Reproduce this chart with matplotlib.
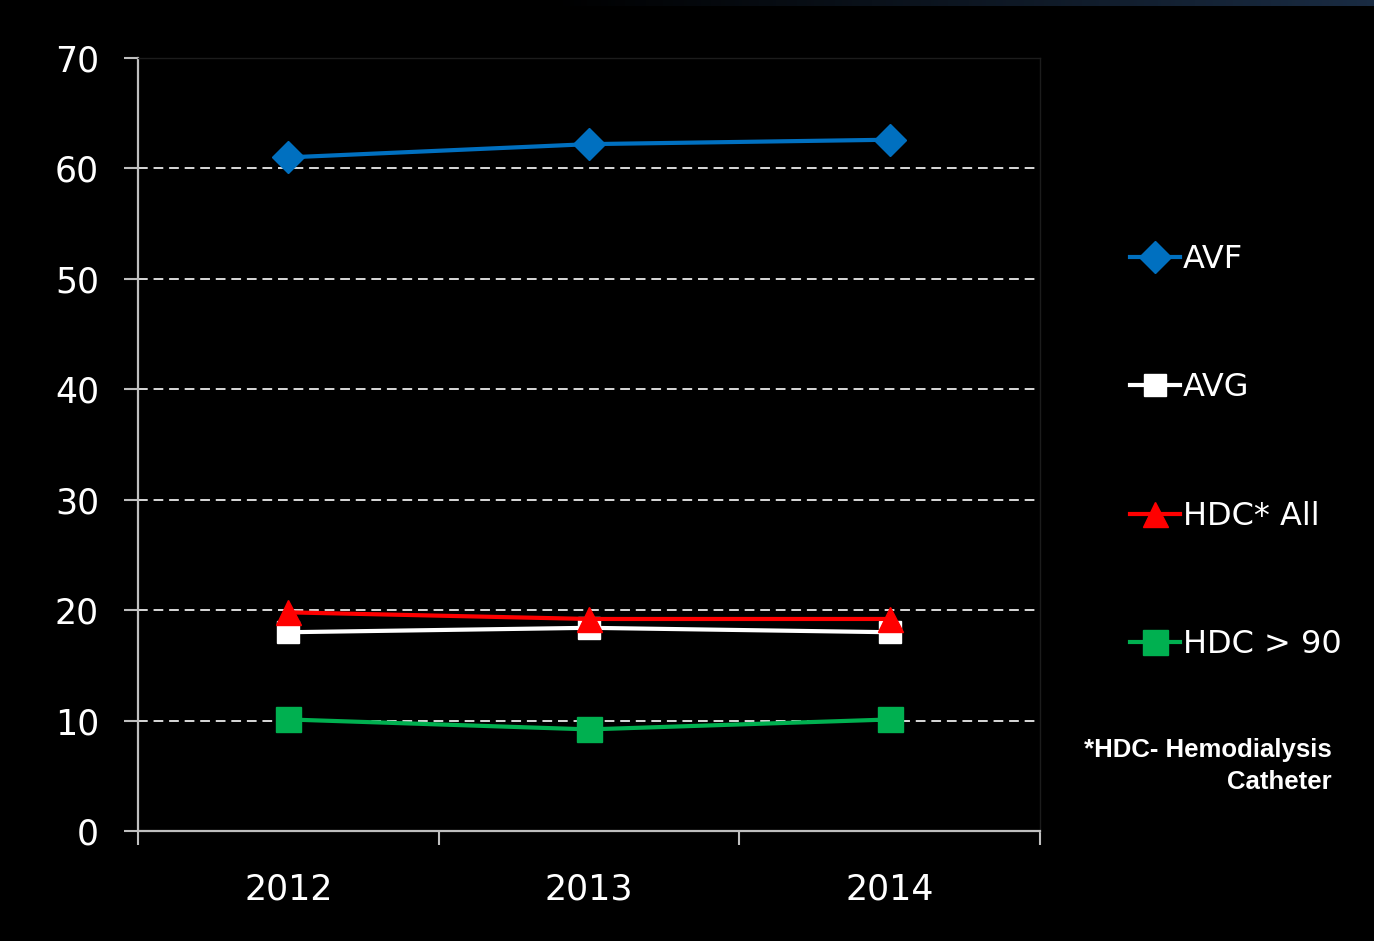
import matplotlib
matplotlib.use("Agg")
import matplotlib.pyplot as plt
import numpy as np

# data
years = ["2012", "2013", "2014"]
avf = [61.0, 62.2, 62.6]
avg = [18.0, 18.4, 18.0]
hdc_all = [19.8, 19.2, 19.2]
hdc_90 = [10.1, 9.2, 10.1]

series_names = ["AVF", "AVG", "HDC* All", "HDC > 90"]
yticks = [0, 10, 20, 30, 40, 50, 60, 70]

fig = plt.figure(figsize=(13.74, 9.41), dpi=100, facecolor="black")
ax = fig.add_axes([138 / 1374, 1 - 831 / 941, (1040 - 138) / 1374, (831 - 58) / 941])
ax.set_facecolor("black")

# faint gradient strip along the top edge
strip = fig.add_axes([0, 1 - 6 / 941, 1, 6 / 941])
grad = np.linspace(0, 1, 400)
grad = np.clip((grad - 0.4) / 0.6, 0, 1)
colors = np.zeros((1, 400, 3))
colors[0, :, 0] = grad * 0.10
colors[0, :, 1] = grad * 0.17
colors[0, :, 2] = grad * 0.26
strip.imshow(colors, aspect="auto")
strip.axis("off")

x = np.arange(len(years))

# dashed gridlines
for yv in yticks[1:-1]:
    ax.axhline(yv, color="#d9d9d9", lw=1.4, ls=(0, (5, 3)), zorder=1)

ax.plot(x, avf, color="#0070C0", lw=3, marker="D", ms=16, zorder=4, label=series_names[0])
ax.plot(x, avg, color="white", lw=3, marker="s", ms=16, zorder=3, label=series_names[1])
ax.plot(x, hdc_all, color="#FF0000", lw=3, marker="^", ms=18, zorder=4, label=series_names[2])
ax.plot(x, hdc_90, color="#00B050", lw=3, marker="s", ms=18, zorder=3, label=series_names[3])

ax.set_xlim(-0.5, 2.5)
ax.set_ylim(0, 70)

# axes styling
for side in ["left", "bottom"]:
    ax.spines[side].set_color("#bfbfbf")
    ax.spines[side].set_linewidth(1.6)
for side in ["top", "right"]:
    ax.spines[side].set_color("#1c1c1c")
    ax.spines[side].set_linewidth(1.0)

ax.set_yticks(yticks)
ax.set_yticklabels([str(v) for v in yticks])
ax.tick_params(axis="y", direction="out", length=10, width=1.5, color="#bfbfbf",
               colors="white", pad=18, labelsize=25)
for lab in ax.get_yticklabels():
    lab.set_color("white")

ax.set_xticks([-0.5, 0.5, 1.5, 2.5])
ax.set_xticklabels([])
ax.tick_params(axis="x", which="major", direction="out", length=10, width=1.5, color="#bfbfbf")
ax.set_xticks(x, minor=True)
ax.set_xticklabels(years, minor=True)
ax.tick_params(axis="x", which="minor", length=0, pad=30, labelsize=25, labelcolor="white")

leg = fig.legend(loc="upper left", bbox_to_anchor=(1130 / 1374, 1 - 244 / 941),
                 frameon=False, fontsize=23, labelcolor="white",
                 handlelength=1.55, handletextpad=0.1, labelspacing=3.05,
                 markerscale=1.0, borderaxespad=0, borderpad=0)

fig.text(1332 / 1374, 1 - 766 / 941, "*HDC- Hemodialysis\nCatheter", color="white",
         fontsize=18.5, fontweight="bold", ha="right", va="center",
         family=["Liberation Sans", "DejaVu Sans"], linespacing=1.4)

fig.savefig("out.png", dpi=100, facecolor="black")
